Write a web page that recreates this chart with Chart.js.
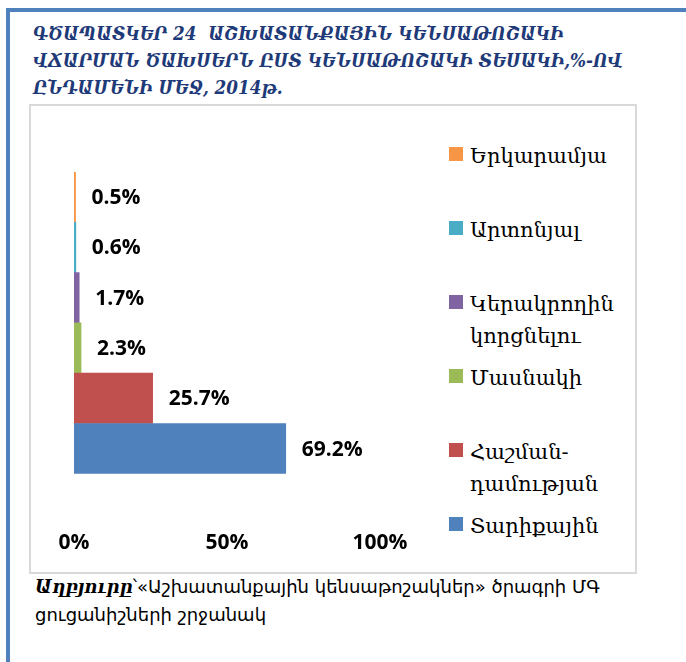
<!DOCTYPE html>
<html>
<head>
<meta charset="utf-8">
<script src="https://cdn.jsdelivr.net/npm/chart.js"></script>
<style>
  body { margin: 0; background: #fff; }
  #page { position: relative; width: 686px; height: 662px; overflow: hidden; }
  #frame { position: absolute; left: 6px; top: 8px; width: 700px; height: 700px;
           border-left: 4px solid #4f81bd; border-top: 4px solid #4f81bd; }
  #title { position: absolute; left: 33px; top: 20px; width: 640px;
           font-family: "DejaVu Serif", serif; font-style: italic; font-weight: bold;
           font-size: 19px; line-height: 27px; color: #1f3a78; white-space: nowrap;
           transform: scaleX(0.885); transform-origin: left top; }
  #box { position: absolute; left: 29px; top: 104px; width: 608px; height: 470px;
         border: 2px solid #d9d9d9; box-sizing: border-box; }
  #legend { position: absolute; left: 449px; top: 140px; }
  .item { position: relative; height: 74px; width: 200px; }
  .sw { position: absolute; left: 0; top: 7px; width: 14px; height: 14px; }
  .txt { position: absolute; left: 21px; top: 0; font-family: "DejaVu Serif", serif;
         font-size: 21px; line-height: 32px; color: #000; white-space: nowrap; }
  #source { position: absolute; left: 35px; top: 573px; font-family: "DejaVu Sans", sans-serif;
            font-size: 18px; line-height: 28px; color: #000; white-space: nowrap; }
  #source b { font-family: "DejaVu Serif", serif; font-style: italic; }
  canvas { position: absolute; left: 0; top: 0; }
</style>
</head>
<body>
<div id="page">
  <div id="frame"></div>
  <div id="title">ԳԾԱՊԱՏԿԵՐ 24&nbsp; ԱՇԽԱՏԱՆՔԱՅԻՆ ԿԵՆՍԱԹՈՇԱԿԻ<br>ՎՃԱՐՄԱՆ ԾԱԽՍԵՐՆ ԸՍՏ ԿԵՆՍԱԹՈՇԱԿԻ ՏԵՍԱԿԻ,%-ՈՎ<br>ԸՆԴԱՄԵՆԻ ՄԵՋ, 2014թ.</div>
  <div id="box"></div>
  <div id="legend"></div>
  <div id="source"><b>Աղբյուրը</b>՝«Աշխատանքային կենսաթոշակներ» ծրագրի ՄԳ<br>ցուցանիշների շրջանակ</div>
  <canvas id="chart" width="686" height="662"></canvas>
</div>
<script>
// pension types, top to bottom
var categories = [["Երկարամյա"], ["Արտոնյալ"], ["Կերակրողին", "կորցնելու"], ["Մասնակի"], ["Հաշման-", "դամության"], ["Տարիքային"]];
var values = [0.5, 0.6, 1.7, 2.3, 25.7, 69.2];
var colors = ["#f79646", "#4bacc6", "#8064a2", "#9bbb59", "#c0504d", "#4f81bd"];
var tickValues = [0, 50, 100];

// legend built from the same arrays
var legend = document.getElementById("legend");
for (var i = 0; i < categories.length; i++) {
  var item = document.createElement("div");
  item.className = "item";
  item.innerHTML = '<div class="sw" style="background:' + colors[i] + '"></div>' +
    '<div class="txt">' + categories[i].join("<br>") + '</div>';
  legend.appendChild(item);
}

// value labels to the right of each bar
var barLabels = {
  id: "barLabels",
  afterDatasetsDraw: function(chart) {
    var ctx = chart.ctx;
    var meta = chart.getDatasetMeta(0);
    ctx.save();
    ctx.font = "bold 21px 'Open Sans'";
    ctx.fillStyle = "#000";
    ctx.textBaseline = "middle";
    meta.data.forEach(function(bar, i) {
      ctx.fillText(values[i].toFixed(1) + "%", bar.x + 16, bar.y + 1);
    });
    ctx.restore();
  }
};

var chart = new Chart("chart", {
  type: "bar",
  data: {
    labels: categories,
    datasets: [{
      data: values,
      backgroundColor: colors,
      barPercentage: 1,
      categoryPercentage: 1
    }]
  },
  options: {
    indexAxis: "y",
    responsive: false,
    animation: false,
    layout: { padding: { left: 74, right: 306, top: 172, bottom: 49 } },
    plugins: { legend: { display: false }, tooltip: { enabled: false } },
    scales: {
      y: { display: false },
      x: {
        min: 0, max: 100,
        afterBuildTicks: function(axis) {
          axis.ticks = tickValues.map(function(v) { return { value: v }; });
        },
        grid: { display: false, drawTicks: false },
        border: { display: false },
        ticks: {
          padding: 57,
          color: "#000",
          font: { family: "'Open Sans'", size: 21, weight: "bold" },
          callback: function(v) { return v + "%"; }
        }
      }
    }
  },
  plugins: [barLabels]
});
</script>
</body>
</html>
